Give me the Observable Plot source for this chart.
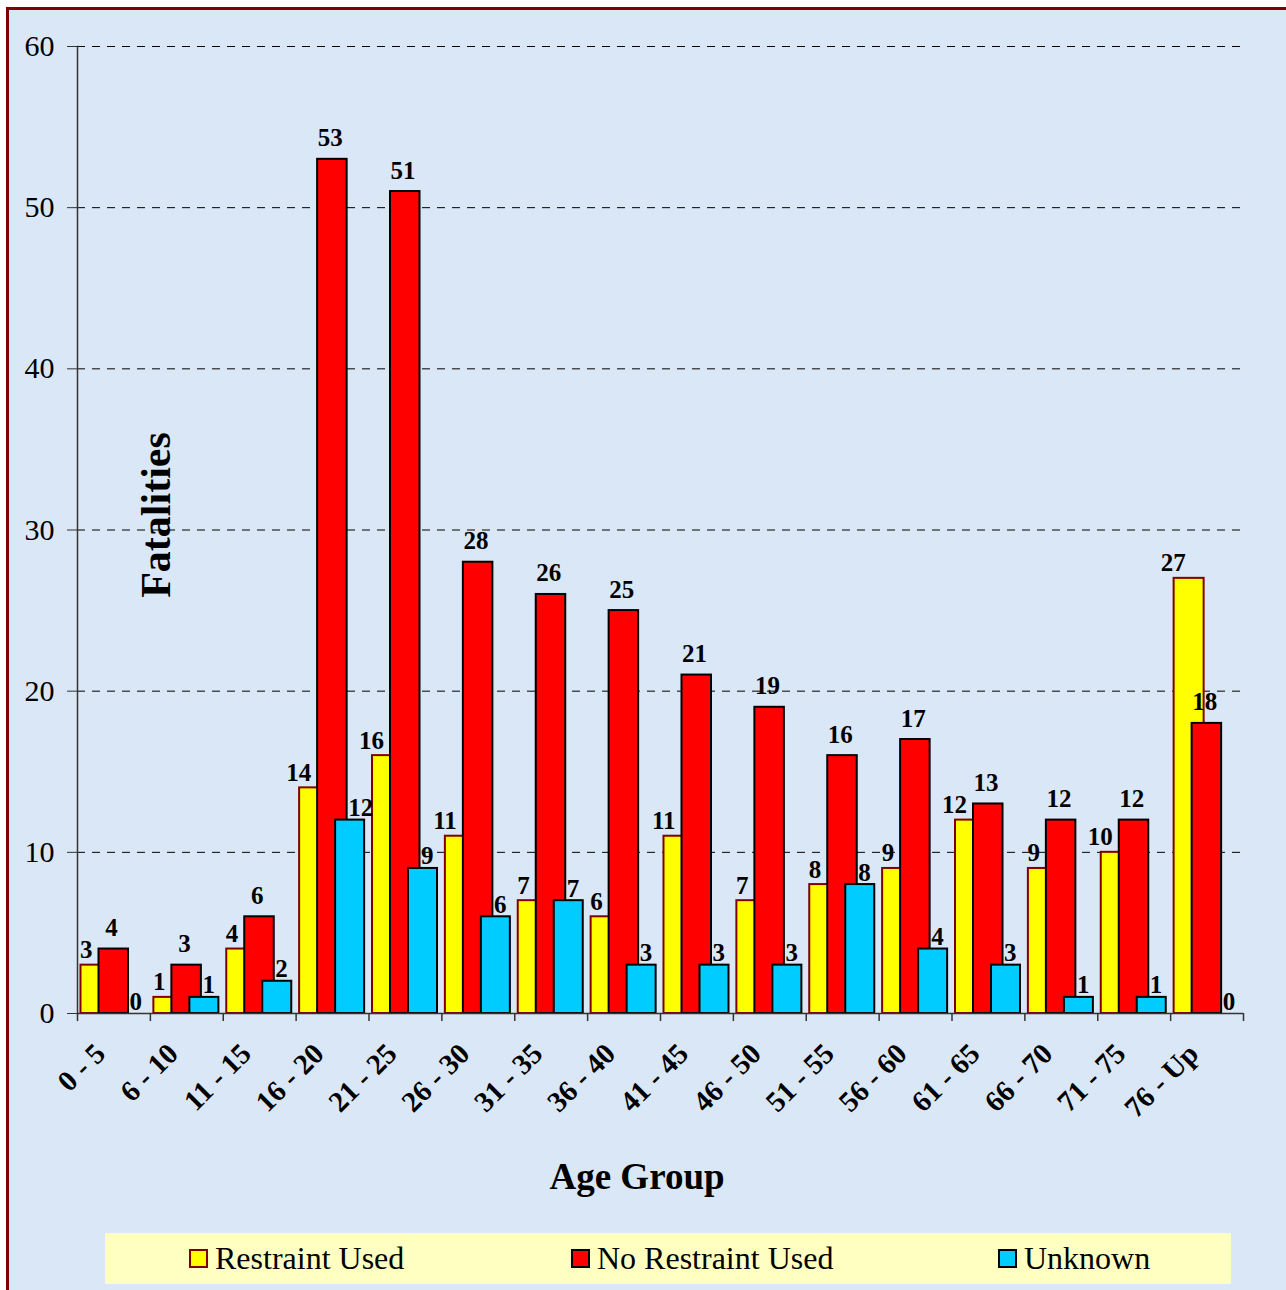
<!DOCTYPE html>
<html>
<head>
<meta charset="utf-8">
<script src="https://cdn.jsdelivr.net/npm/d3@7"></script>
<script src="https://cdn.jsdelivr.net/npm/@observablehq/plot@0.6"></script>
<style>
  html, body { margin: 0; padding: 0; overflow: hidden; background: #ffffff; width: 1286px; height: 1290px; }
  #frame { position: absolute; left: 6px; top: 7px; width: 1300px; height: 1300px; border: 3px solid #800000; background: #dae7f7; }
  #chart { position: absolute; left: 0; top: 0; }
  .ttl { position: absolute; font-family: "Liberation Serif", "Times New Roman", serif; font-weight: bold; color: #000; white-space: nowrap; }
  #legend { position: absolute; left: 105px; top: 1233px; width: 1126px; height: 51px; background: #ffffc2; font-family: "Liberation Serif", "Times New Roman", serif; font-size: 32px; color: #000; }
  .item { position: absolute; top: 0; height: 51px; display: flex; align-items: center; }
  .sw { width: 15px; height: 15px; border: 2px solid #000; margin-right: 7px; }
</style>
</head>
<body>
<div id="frame"></div>
<div id="chart"></div>
<div class="ttl" id="xt" style="left:637px; top:1176px; font-size:37px; transform: translate(-50%,-50%);">Age Group</div>
<div class="ttl" id="yt" style="left:156px; top:515px; font-size:42px; transform: translate(-50%,-50%) rotate(-90deg);">Fatalities</div>
<div id="legend"></div>
<script>
const ages = ["0 - 5","6 - 10","11 - 15","16 - 20","21 - 25","26 - 30","31 - 35","36 - 40","41 - 45","46 - 50","51 - 55","56 - 60","61 - 65","66 - 70","71 - 75","76 - Up"];
const restraintUsed = [3,1,4,14,16,11,7,6,11,7,8,9,12,9,10,27];
const noRestraintUsed = [4,3,6,53,51,28,26,25,21,19,16,17,13,12,12,18];
const unknownRestraint = [0,1,2,12,9,6,7,3,3,3,8,4,3,1,1,0];
const yTicks = [0,10,20,30,40,50,60];
const seriesNames = ["Restraint Used","No Restraint Used","Unknown"];
const seriesFill = ["#ffff00","#ff0000","#00ccff"];
const seriesStroke = ["#800000","#000000","#000000"];

const W = 1286, H = 1290, ML = 77, MR = 43, MT = 46, MB = 277;
const bw = (W - ML - MR) / ages.length;
const serif = '"Liberation Serif", "Times New Roman", serif';

const rows = (vals) => ages.map((a, i) => ({age: a, value: vals[i]}));
const R = rows(restraintUsed), N = rows(noRestraintUsed), U = rows(unknownRestraint);

// bar geometry inside each age band (left offset, width) in px
const geo = [[3.5, 30], [21.5, 29.5], [39.5, 29]];
function bars(data, k) {
  return Plot.barY(data.filter(d => d.value > 0), {
    x: "age", y: "value", fill: seriesFill[k], stroke: seriesStroke[k], strokeWidth: 2,
    insetLeft: geo[k][0], insetRight: bw - geo[k][0] - geo[k][1]
  });
}
const lab = {fontSize: 25, fontWeight: "bold", fontFamily: serif, fill: "#000", lineAnchor: "middle"};

const chart = Plot.plot({
  width: W, height: H,
  marginLeft: ML, marginRight: MR, marginTop: MT, marginBottom: MB,
  style: {background: "transparent", fontFamily: serif, overflow: "visible"},
  x: {type: "band", domain: ages, padding: 0, round: false, axis: null},
  y: {domain: [0, 60], axis: null},
  marks: [
    Plot.gridY(yTicks.filter(d => d > 0), {stroke: "#000", strokeOpacity: 1, strokeWidth: 1, strokeDasharray: "8,7"}),
    bars(R, 0), bars(N, 1), bars(U, 2),
    Plot.ruleY([0], {stroke: "#333", strokeWidth: 1.5}),
    Plot.frame({anchor: "left", stroke: "#333", strokeWidth: 1.5}),
    Plot.axisY({ticks: yTicks, tickSize: 10, tickPadding: 13, fontSize: 30, fontFamily: serif, color: "#000", stroke: "#333", label: null, tickFormat: d => d}),
    Plot.ruleX(ages, {x: d => d, y1: 0, y2: -0.5, dx: -bw / 2, stroke: "#333", strokeWidth: 1.5}),
    Plot.ruleX([ages[ages.length - 1]], {x: d => d, y1: 0, y2: -0.5, dx: bw / 2, stroke: "#333", strokeWidth: 1.5}),
    Plot.text(ages, {x: d => d, y: 0, dx: -7, dy: 42, text: d => d, rotate: -45, textAnchor: "end", lineAnchor: "bottom", fontSize: 29, fontWeight: "bold", fontFamily: serif, fill: "#000"}),
    Plot.text(R, {x: "age", y: "value", text: "value", textAnchor: "end", dx: 15 - bw / 2, dy: -15, ...lab}),
    Plot.text(N, {x: "age", y: "value", text: "value", textAnchor: "middle", dx: 34 - bw / 2, dy: -21, ...lab}),
    Plot.text(U, {x: "age", y: "value", text: "value", textAnchor: "start", dx: 52 - bw / 2, dy: -12, ...lab})
  ]
});
document.getElementById("chart").appendChild(chart);

// legend
const legendPos = [[189, 217], [571, 598], [998, 1026]];
const legend = document.getElementById("legend");
seriesNames.forEach((name, k) => {
  const it = document.createElement("div");
  it.className = "item";
  it.style.left = (legendPos[k][0] - 105) + "px";
  const sw = document.createElement("div");
  sw.className = "sw";
  sw.style.background = seriesFill[k];
  sw.style.borderColor = seriesStroke[k];
  const tx = document.createElement("span");
  tx.textContent = name;
  it.appendChild(sw); it.appendChild(tx);
  legend.appendChild(it);
});
</script>
</body>
</html>
